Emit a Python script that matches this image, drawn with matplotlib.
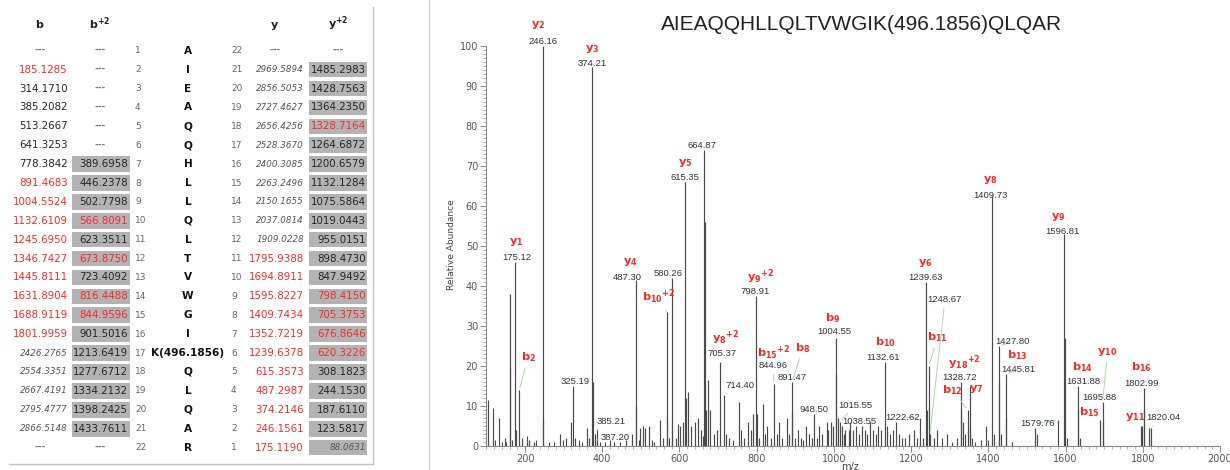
import matplotlib
matplotlib.use('Agg')
import matplotlib.pyplot as plt
from matplotlib.patches import Rectangle
from matplotlib.ticker import MultipleLocator

RED = '#f42c2c'
GREEN = '#a3dca3'
BOX = '#b3b3b3'

# ---------------- fragment table ----------------
residues = ['A', 'I', 'E', 'A', 'Q', 'Q', 'H', 'L', 'L', 'Q', 'L', 'T', 'V', 'W',
            'G', 'I', 'K(496.1856)', 'Q', 'L', 'Q', 'A', 'R']

b_ions = ['---', '185.1285', '314.1710', '385.2082', '513.2667', '641.3253', '778.3842',
          '891.4683', '1004.5524', '1132.6109', '1245.6950', '1346.7427', '1445.8111',
          '1631.8904', '1688.9119', '1801.9959', '2426.2765', '2554.3351', '2667.4191',
          '2795.4777', '2866.5148', '---']
b_state = 'd r n n n n n r r r r r r r r r i i i i i d'.split()

b2_ions = ['---', '---', '---', '---', '---', '---', '389.6958', '446.2378', '502.7798',
           '566.8091', '623.3511', '673.8750', '723.4092', '816.4488', '844.9596',
           '901.5016', '1213.6419', '1277.6712', '1334.2132', '1398.2425', '1433.7611', '---']
b2_state = 'd d d d d d n n n r n r n r r n n n n n n d'.split()

y_ions = ['---', '2969.5894', '2856.5053', '2727.4627', '2656.4256', '2528.3670',
          '2400.3085', '2263.2496', '2150.1655', '2037.0814', '1909.0228', '1795.9388',
          '1694.8911', '1595.8227', '1409.7434', '1352.7219', '1239.6378', '615.3573',
          '487.2987', '374.2146', '246.1561', '175.1190']
y_state = 'd i i i i i i i i i i r r r r r r r r r r r'.split()

y2_ions = ['---', '1485.2983', '1428.7563', '1364.2350', '1328.7164', '1264.6872',
           '1200.6579', '1132.1284', '1075.5864', '1019.0443', '955.0151', '898.4730',
           '847.9492', '798.4150', '705.3753', '676.8646', '620.3226', '308.1823',
           '244.1530', '187.6110', '123.5817', '88.0631']
y2_state = 'd n n n r n n n n n n n n r r r r n n n n i'.split()

# ---------------- spectrum ----------------
peak_mz = [105, 116, 122, 133, 140, 148, 152, 160, 161.1, 166, 175.12, 176.1, 185.13, 191,
           204, 210, 222, 229, 246.16, 247.2, 262, 275, 290, 298, 307, 318, 325.19, 330,
           340, 348, 360, 366, 374.21, 375.2, 380, 385.21, 387.20, 395, 408, 420, 430, 445,
           462, 476, 487.30, 488.3, 494, 499, 505, 512, 520, 528, 535, 549, 558, 566.81,
           567.8, 572, 580.26, 581.3, 590, 597, 602, 608, 615.35, 616.3, 623, 630, 640, 648,
           655, 660, 664.87, 665.9, 670, 674, 680, 690, 696, 705.37, 714.40, 720, 728, 738,
           753, 760, 768, 777, 785, 790, 798.91, 799.9, 806, 816, 822, 828, 836, 844.96,
           852, 858, 866, 878, 884, 891.47, 892.5, 898, 906, 914, 921, 928, 936, 942,
           948.50, 955, 962, 970, 981, 986, 992, 998, 1004.55, 1005.5, 1010, 1015.55, 1020,
           1025, 1030, 1038.55, 1043, 1050, 1057, 1064, 1072, 1080, 1087, 1094, 1100, 1108,
           1115, 1122, 1132.61, 1138, 1145, 1152, 1160, 1168, 1176, 1185, 1195, 1207, 1215,
           1222.62, 1230, 1239.63, 1240.6, 1245.70, 1248.67, 1260, 1268, 1280, 1292, 1305,
           1318, 1328.72, 1329.7, 1335, 1340, 1346.74, 1352.72, 1353.7, 1358, 1366, 1380,
           1394, 1400, 1409.73, 1415, 1427.80, 1428.8, 1434, 1445.81, 1446.8, 1460, 1521,
           1525, 1579.76, 1596.81, 1597.8, 1603, 1631.88, 1632.9, 1638, 1688.91, 1695.88,
           1696.9, 1795.94, 1798, 1802.99, 1804.0, 1815, 1820.04]
peak_int = [11.5, 9.5, 1.5, 7, 1, 2, 1, 38, 19.5, 1.5, 46, 4, 14, 2,
            2.5, 1.5, 1, 1.5, 100, 7, 1, 1, 3, 1.5, 2, 6, 15, 2,
            1.5, 1, 4.5, 2, 94.8, 16, 3, 4, 1.5, 1, 1, 1.5, 1, 1,
            1.5, 3, 41.5, 10, 1.5, 4.5, 5, 4.5, 5, 1.5, 1, 6.5, 2, 33.5,
            7, 2, 42, 4, 2, 5.5, 5, 6, 66, 12, 13.5, 5, 6, 7,
            4, 2.5, 74, 56, 9, 16.5, 9, 3, 4, 21, 12.7, 3, 2, 1.5,
            11, 4, 2, 6, 4, 8, 37.5, 8, 2, 10.5, 3, 5, 2, 15.5,
            3, 6, 2, 7, 3, 16, 8.5, 2, 4, 2, 1.5, 5, 3, 2,
            8, 2, 5, 3, 6, 4, 6, 5, 27, 18, 7, 6, 5,
            3, 4, 4, 6, 4, 5, 3, 5, 4, 3, 6, 4, 3,
            5, 4, 21, 5, 3, 4, 6, 3, 2, 2, 3, 4, 2,
            7, 2, 41, 9, 20, 3, 2, 4, 2, 3, 1,
            2, 16, 9, 6, 3, 9, 15, 5, 2, 1, 1.5,
            5, 1.5, 62.5, 3, 25, 16, 3, 18, 7, 1, 4.5,
            3, 6.5, 53, 27, 2, 15, 9, 2, 6.5, 11,
            6, 5, 5, 14.5, 9, 4.5, 4.5]

# annotated peaks: ion name (mathtext) and printed m/z
label_mz = [175.12, 185.13, 246.16, 325.19, 374.21, 385.21, 387.20, 487.30, 566.81, 580.26,
            615.35, 664.87, 705.37, 714.40, 798.91, 844.96, 891.47, 948.50, 1004.55, 1015.55,
            1038.55, 1132.61, 1222.62, 1239.63, 1245.70, 1248.67, 1328.72, 1346.74, 1352.72,
            1409.73, 1427.80, 1445.81, 1579.76, 1596.81, 1631.88, 1688.91, 1695.88, 1795.94,
            1802.99, 1820.04]
label_ion = ['y_{1}', 'b_{2}', 'y_{2}', '', 'y_{3}', '', '', 'y_{4}', 'b_{10}{}^{+2}', '',
             'y_{5}', '', 'y_{8}{}^{+2}', '', 'y_{9}{}^{+2}', 'b_{15}{}^{+2}', 'b_{8}', '', 'b_{9}', '',
             '', 'b_{10}', '', 'y_{6}', 'b_{11}', '', 'y_{18}{}^{+2}', 'b_{12}', 'y_{7}',
             'y_{8}', '', 'b_{13}', '', 'y_{9}', 'b_{14}', 'b_{15}', 'y_{10}', 'y_{11}',
             'b_{16}', '']
label_mass = ['175.12', '', '246.16', '325.19', '374.21', '385.21', '387.20', '487.30', '', '580.26',
              '615.35', '664.87', '705.37', '714.40', '798.91', '844.96', '891.47', '948.50', '1004.55', '1015.55',
              '1038.55', '1132.61', '1222.62', '1239.63', '', '1248.67', '1328.72', '', '',
              '1409.73', '1427.80', '1445.81', '1579.76', '1596.81', '1631.88', '', '1695.88', '',
              '1802.99', '1820.04']

# label placement, pixel offsets from the peak top
ion_off = [(1, 20), (9, 33), (-5, 21), None, (0, 18), None, None, (-6, 18), (-8, 15), None,
           (0, 19), None, (5, 24), None, (4, 19), (0, 31), (11, 34), None, (-3, 20), None,
           None, (0, 20), None, (-1, 19), (9, 29), None, (3, 19), (-15, 20), (6, -3),
           (-2, 16), None, (11, 19), None, (-6, 17), (5, 19), (-10, 8), (5, 50), (-6, 9),
           (-2, 21), None]
mass_off = [(1, 5), None, (0, 4), (2, 4), (0, 3), (15, 9), (18, 3), (-9, 3), None, (-4, 5),
            (0, 4), (-2, 5), (2, 8), (16, 10), (-1, 4), (-1, 18), (0, 5), (0, 5), (-1, 6), (15, 17),
            (11, 9), (-2, 4), (-17, 1), (-1, 5), None, (15, 134), (-1, 5), None, None,
            (-2, 1), (13, 4), (12, 5), (-20, -3), (-2, 3), (5, 4), None, (-3, 5), None,
            (-2, 5), (13, 10)]
ion_leader = ['b_{2}', 'b_{10}{}^{+2}', 'b_{8}', 'b_{11}', 'b_{12}', 'y_{10}']
mass_leader = ['385.21', '387.20', '714.40', '844.96', '1015.55', '1038.55', '1222.62',
               '1248.67', '1427.80', '1445.81', '1579.76', '1820.04']

fig = plt.figure(figsize=(12.3, 4.7), dpi=100)

# table drawn on a full-figure pixel canvas
tab = fig.add_axes([0, 0, 1, 1])
tab.set_xlim(0, 1230)
tab.set_ylim(470, 0)
tab.axis('off')

row0 = 50.7
dy = 18.9


def cell(ax, x, y, txt, state, ha, box=None):
    if box is not None:
        ax.add_patch(Rectangle((box[0], y - 7.8), box[1] - box[0], 15.6, color=BOX, lw=0))
    if state == 'd':
        ax.text(x, y, txt, ha='center', va='center', fontsize=6.5, color='#777777', fontweight='bold')
    elif state == 'i':
        ax.text(x, y, txt, ha=ha, va='center', fontsize=6.3, color='#555555', style='italic')
    else:
        ax.text(x, y, txt, ha=ha, va='center', fontsize=7.4,
                color=RED if state == 'r' else '#262626')


hdr_y = 24
tab.text(40, hdr_y, r'$\mathbf{b}$', ha='center', va='center', fontsize=8, color='#222222')
tab.text(100, hdr_y, r'$\mathbf{b^{+2}}$', ha='center', va='center', fontsize=8, color='#222222')
tab.text(275, hdr_y + 2, r'$\mathbf{y}$', ha='center', va='center', fontsize=8, color='#222222')
tab.text(338, hdr_y, r'$\mathbf{y^{+2}}$', ha='center', va='center', fontsize=8, color='#222222')

for i in range(len(residues)):
    yy = row0 + i * dy
    cell(tab, 40 if b_state[i] == 'd' else 68, yy, b_ions[i], b_state[i], 'right')
    has_box = b2_state[i] != 'd'
    cell(tab, 100 if not has_box else 128, yy, b2_ions[i], b2_state[i], 'right',
         box=(72, 130) if has_box else None)
    tab.text(135, yy, str(i + 1), ha='left', va='center', fontsize=6.5, color='#666666')
    tab.text(188, yy, residues[i], ha='center', va='center', fontsize=7.6, fontweight='bold',
             color='#111111')
    tab.text(231, yy, str(len(residues) - i), ha='left', va='center', fontsize=6.5, color='#666666')
    cell(tab, 275 if y_state[i] == 'd' else 304, yy, y_ions[i], y_state[i], 'right')
    has_box = y2_state[i] != 'd'
    cell(tab, 338 if not has_box else 366, yy, y2_ions[i], y2_state[i], 'right',
         box=(309, 367) if has_box else None)

tab.plot([373, 373], [7, 464], color='#c4c4c4', lw=1)
tab.plot([9, 373], [464, 464], color='#c4c4c4', lw=1)
tab.plot([429, 429], [0, 470], color='#cfcfcf', lw=1)

# spectrum axes
ax = fig.add_axes([486.4 / 1230, 24 / 470, 733.6 / 1230, 400 / 470])
ax.vlines(peak_mz, 0, peak_int, color='#4a4a4a', lw=0.85)
ax.set_xlim(100, 2000)
ax.set_ylim(0, 100)
for s in ['top', 'right']:
    ax.spines[s].set_visible(False)
for s in ['left', 'bottom']:
    ax.spines[s].set_color('#8a8a8a')
    ax.spines[s].set_linewidth(0.8)
ax.xaxis.set_major_locator(MultipleLocator(200))
ax.xaxis.set_minor_locator(MultipleLocator(20))
ax.yaxis.set_major_locator(MultipleLocator(10))
ax.yaxis.set_minor_locator(MultipleLocator(1))
ax.tick_params(which='major', length=4, width=0.7, color='#8a8a8a', labelsize=7,
               labelcolor='#555555', pad=2)
ax.tick_params(which='minor', length=2, width=0.5, color='#9a9a9a')

heights = dict(zip(peak_mz, peak_int))
for i, mz in enumerate(label_mz):
    h = heights[mz]
    if label_mass[i]:
        kw = {}
        if label_mass[i] in mass_leader:
            kw['arrowprops'] = dict(arrowstyle='-', color=GREEN, lw=0.7, shrinkA=1, shrinkB=2)
        ax.annotate(label_mass[i], xy=(mz, h), xytext=mass_off[i], textcoords='offset pixels',
                    ha='center', va='center', fontsize=6.8, color='#333333',
                    family='Liberation Sans', annotation_clip=False, **kw)
    if label_ion[i]:
        kw = {}
        if label_ion[i] in ion_leader:
            kw['arrowprops'] = dict(arrowstyle='-', color=GREEN, lw=0.7, shrinkA=1, shrinkB=2)
        ax.annotate(r'$\mathbf{%s}$' % label_ion[i], xy=(mz, h), xytext=ion_off[i],
                    textcoords='offset pixels', ha='center', va='center', fontsize=8.2,
                    color=RED, annotation_clip=False, **kw)

fig.text(862 / 1230, 1 - 25 / 470, 'AIEAQQHLLQLTVWGIK(496.1856)QLQAR', ha='center', va='center',
         fontsize=15, family='Liberation Sans', color='#222222')
fig.text(452 / 1230, 1 - 245 / 470, 'Relative Abundance', rotation=90, ha='center', va='center',
         fontsize=6.5, color='#444444')
fig.text(850 / 1230, 1 - 467 / 470, 'm/z', ha='center', va='center', fontsize=7, color='#444444')

fig.savefig('out.png', dpi=100)
